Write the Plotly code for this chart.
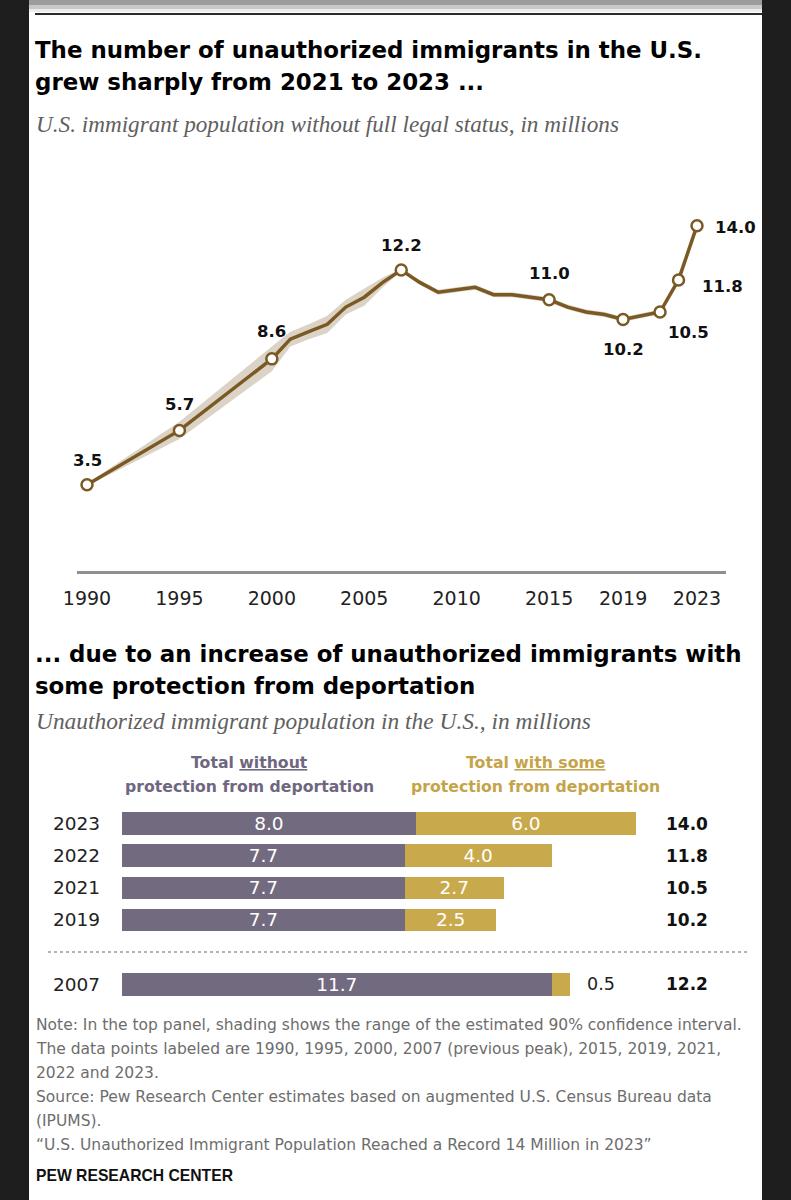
import plotly.graph_objects as go

# ---------------- data ----------------
years = [1990, 1995, 2000, 2001, 2002, 2003, 2004, 2005, 2006, 2007, 2008, 2009, 2010,
         2011, 2012, 2013, 2014, 2015, 2016, 2017, 2018, 2019, 2021, 2022, 2023]
values = [3.5, 5.7, 8.6, 9.4, 9.7, 10.0, 10.7, 11.1, 11.7, 12.2, 11.7, 11.3, 11.4,
          11.5, 11.2, 11.2, 11.1, 11.0, 10.7, 10.5, 10.4, 10.2, 10.5, 11.8, 14.0]
ci_low = [3.45, 5.35, 8.1, 9.1, 9.4, 9.65, 10.4, 10.75, 11.5, 12.15, 11.6, 11.2, 11.3,
          11.4, 11.1, 11.1, 11.0, 10.9, 10.6, 10.4, 10.3, 10.1, 10.4, 11.75, 13.95]
ci_high = [3.55, 6.05, 9.1, 9.7, 10.0, 10.35, 11.0, 11.45, 11.9, 12.25, 11.8, 11.4, 11.5,
           11.6, 11.3, 11.3, 11.2, 11.1, 10.8, 10.6, 10.5, 10.3, 10.6, 11.85, 14.05]
labeled_years = [1990, 1995, 2000, 2007, 2015, 2019, 2021, 2022, 2023]
tick_years = [1990, 1995, 2000, 2005, 2010, 2015, 2019, 2023]

bar_years = ["2023", "2022", "2021", "2019"]
without_protection = [8.0, 7.7, 7.7, 7.7]
with_protection = [6.0, 4.0, 2.7, 2.5]
bar_totals = [14.0, 11.8, 10.5, 10.2]

peak_year = ["2007"]
peak_without = [11.7]
peak_with = [0.5]
peak_total = [12.2]

title1 = ["The number of unauthorized immigrants in the U.S.",
          "grew sharply from 2021 to 2023 ..."]
subtitle1 = "U.S. immigrant population without full legal status, in millions"
title2 = ["... due to an increase of unauthorized immigrants with",
          "some protection from deportation"]
subtitle2 = "Unauthorized immigrant population in the U.S., in millions"
header_without = ["Total <u>without</u>", "protection from deportation"]
header_with = ["Total <u>with some</u>", "protection from deportation"]
notes = [
    "Note: In the top panel, shading shows the range of the estimated 90% confidence interval.",
    "The data points labeled are 1990, 1995, 2000, 2007 (previous peak), 2015, 2019, 2021,",
    "2022 and 2023.",
    "Source: Pew Research Center estimates based on augmented U.S. Census Bureau data",
    "(IPUMS).",
    "\u201cU.S. Unauthorized Immigrant Population Reached a Record 14 Million in 2023\u201d",
]
brand = "PEW RESEARCH CENTER"

# ---------------- styles ----------------
W, H = 791, 1200
def X(px): return px / W
def Y(py): return 1 - py / H

BROWN = "#7a5924"
BAND = "#dad3c6"
PURPLE = "#726a7e"
GOLD = "#c8a94c"
PURPLE_TXT = "#6f6780"
GOLD_TXT = "#c4a449"
SANS = "Liberation Sans, Arial, sans-serif"
NUM = "DejaVu Sans, Verdana, sans-serif"
SERIF = "Liberation Serif, Times New Roman, serif"

label_offsets = {1990: (0, 24), 1995: (0, 26), 2000: (0, 27), 2007: (0, 25), 2015: (0, 26),
                 2019: (0, -30), 2021: (28, -21), 2022: (44, -7), 2023: (38, -2)}

# top chart pixel geometry
px_per_year = (697 - 87) / 33.0
x_left, x_right = 77, 726
xr = [1990 - (87 - x_left) / px_per_year, 1990 + (x_right - 87) / px_per_year]
px_per_unit = (484 - 225) / 10.5
y_bottom_px, y_top_px = 571, 170
yr = [0, (y_bottom_px - y_top_px) / px_per_unit]

fig = go.Figure()

# confidence band
fig.add_trace(go.Scatter(x=years, y=ci_low, mode="lines", line=dict(width=0, color=BAND),
                         hoverinfo="skip", showlegend=False))
fig.add_trace(go.Scatter(x=years, y=ci_high, mode="lines", line=dict(width=0, color=BAND),
                         fill="tonexty", fillcolor=BAND, hoverinfo="skip", showlegend=False))
# line
fig.add_trace(go.Scatter(x=years, y=values, mode="lines", line=dict(color=BROWN, width=3.5),
                         showlegend=False))
# labeled markers
val_by_year = dict(zip(years, values))
lab_vals = [val_by_year[y] for y in labeled_years]
fig.add_trace(go.Scatter(x=labeled_years, y=lab_vals, mode="markers",
                         marker=dict(size=11, color="white", line=dict(color=BROWN, width=2.5)),
                         showlegend=False, cliponaxis=False))

bar_text_font = dict(family=NUM, size=18.5, color="white")
bar_common = dict(orientation="h", texttemplate="%{x:.1f}", textposition="inside",
                  insidetextanchor="middle", constraintext="none",
                  textfont=bar_text_font, showlegend=False)
# bars (recent years)
fig.add_trace(go.Bar(y=bar_years, x=without_protection, xaxis="x2", yaxis="y2",
                     marker=dict(color=PURPLE, line=dict(width=0)), **bar_common))
fig.add_trace(go.Bar(y=bar_years, x=with_protection, xaxis="x2", yaxis="y2",
                     marker=dict(color=GOLD, line=dict(width=0)), **bar_common))
# bars (2007)
fig.add_trace(go.Bar(y=peak_year, x=peak_without, xaxis="x3", yaxis="y3",
                     marker=dict(color=PURPLE, line=dict(width=0)), **bar_common))
fig.add_trace(go.Bar(y=peak_year, x=peak_with, orientation="h", xaxis="x3", yaxis="y3",
                     marker=dict(color=GOLD, line=dict(width=0)), textposition="none",
                     showlegend=False))

ann = []
# data labels on line chart
for yv, v in zip(labeled_years, lab_vals):
    dx, dy = label_offsets[yv]
    ann.append(dict(x=yv, y=v, xref="x", yref="y", text="<b>%.1f</b>" % v, showarrow=False,
                    xshift=dx, yshift=dy, font=dict(family=NUM, size=16.5, color="#111")))

def txt(s, xpx, ypx, size, color="#000", family=SANS, anchor="left"):
    ann.append(dict(x=X(xpx), y=Y(ypx), xref="paper", yref="paper", text=s, showarrow=False,
                    xanchor=anchor, yanchor="middle", font=dict(family=family, size=size, color=color)))

TSIZE = 22.9
txt("<b>%s</b>" % title1[0], 33, 50, TSIZE, family=NUM)
txt("<b>%s</b>" % title1[1], 33, 82, TSIZE, family=NUM)
txt("<i>%s</i>" % subtitle1, 34, 124, 23.2, "#606060", SERIF)
txt("<b>%s</b>" % title2[0], 33, 654, TSIZE, family=NUM)
txt("<b>%s</b>" % title2[1], 33, 686, TSIZE, family=NUM)
txt("<i>%s</i>" % subtitle2, 34, 721, 23.4, "#606060", SERIF)
txt("<b>%s</b>" % header_without[0], 249, 762, 15.7, PURPLE_TXT, NUM, anchor="center")
txt("<b>%s</b>" % header_without[1], 249, 786, 15.7, PURPLE_TXT, NUM, anchor="center")
txt("<b>%s</b>" % header_with[0], 535, 762, 15.7, GOLD_TXT, NUM, anchor="center")
txt("<b>%s</b>" % header_with[1], 535, 786, 15.7, GOLD_TXT, NUM, anchor="center")
for i, line in enumerate(notes):
    txt(line, 34, 1025 + 24 * i, 15.5, "#6d6d6d", NUM)
txt("<b>%s</b>" % brand, 34, 1175, 15.7, "#111")

# year labels and totals on bar chart (category axes use category index)
for i, (yy, t) in enumerate(zip(bar_years, bar_totals)):
    ann.append(dict(x=X(102), y=i, xref="paper", yref="y2", text=yy, showarrow=False,
                    xanchor="right", font=dict(family=NUM, size=18.5, color="#222")))
    ann.append(dict(x=X(687), y=i, xref="paper", yref="y2", text="<b>%.1f</b>" % t, showarrow=False,
                    xanchor="center", font=dict(family=NUM, size=17, color="#111")))
for i, (yy, t, a, b) in enumerate(zip(peak_year, peak_total, peak_without, peak_with)):
    ann.append(dict(x=X(102), y=i, xref="paper", yref="y3", text=yy, showarrow=False,
                    xanchor="right", font=dict(family=NUM, size=18.5, color="#222")))
    ann.append(dict(x=X(687), y=i, xref="paper", yref="y3", text="<b>%.1f</b>" % t, showarrow=False,
                    xanchor="center", font=dict(family=NUM, size=17, color="#111")))
    ann.append(dict(x=a + b, y=i, xref="x3", yref="y3", text="%.1f" % b, showarrow=False,
                    xanchor="left", xshift=15, font=dict(family=NUM, size=17.5, color="#222")))

shapes = [
    dict(type="rect", xref="paper", yref="paper", x0=X(29), x1=X(762), y0=Y(1200), y1=Y(0),
         fillcolor="white", line=dict(width=0), layer="below"),
    dict(type="rect", xref="paper", yref="paper", x0=X(29), x1=X(762), y0=Y(5), y1=Y(0),
         fillcolor="#9c9c9c", line=dict(width=0), layer="below"),
    dict(type="rect", xref="paper", yref="paper", x0=X(29), x1=X(762), y0=Y(9), y1=Y(5),
         fillcolor="#c8c8c8", line=dict(width=0), layer="below"),
    dict(type="rect", xref="paper", yref="paper", x0=X(29), x1=X(762), y0=Y(12), y1=Y(9),
         fillcolor="#ececec", line=dict(width=0), layer="below"),
    dict(type="line", xref="paper", yref="paper", x0=X(35), x1=X(762), y0=Y(14), y1=Y(14),
         line=dict(color="#2a2a2a", width=2)),
    dict(type="line", xref="paper", yref="paper", x0=X(48), x1=X(750), y0=Y(952), y1=Y(952),
         line=dict(color="#9a9a9a", width=1.5, dash="dot")),
]

fig.update_layout(
    width=W, height=H, margin=dict(l=0, r=0, t=0, b=0, autoexpand=False),
    paper_bgcolor="#1e1e1e", plot_bgcolor="rgba(0,0,0,0)",
    barmode="stack", bargap=0.29, showlegend=False,
    xaxis=dict(domain=[X(x_left), X(x_right)], range=xr, tickvals=tick_years,
               ticktext=[str(t) for t in tick_years], showgrid=False, zeroline=False,
               showline=True, linecolor="#8f8f8f", linewidth=2.5, ticks="",
               ticklabelstandoff=8, automargin=False,
               tickfont=dict(family=NUM, size=19, color="#222"), anchor="y", fixedrange=True),
    yaxis=dict(domain=[Y(y_bottom_px), Y(y_top_px)], range=yr, visible=False,
               automargin=False, fixedrange=True),
    xaxis2=dict(domain=[X(122), X(636)], range=[0, 14], visible=False, anchor="y2",
                automargin=False),
    yaxis2=dict(type="category", domain=[Y(936.0), Y(807.8)],
                range=[len(bar_years) - 0.5, -0.5], visible=False, anchor="x2",
                categoryorder="array", categoryarray=bar_years, automargin=False),
    xaxis3=dict(domain=[X(122), X(636)], range=[0, 14], visible=False, anchor="y3",
                automargin=False),
    yaxis3=dict(type="category", domain=[Y(1000.3), Y(968.3)], range=[-0.5, 0.5],
                visible=False, anchor="x3", automargin=False),
    annotations=ann, shapes=shapes,
)

fig.write_html("out.html", config={"displayModeBar": False},
               post_script="document.body.style.margin='0';document.body.style.overflow='hidden';")
